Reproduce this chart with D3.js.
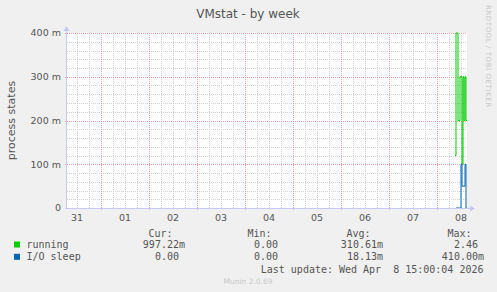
<!DOCTYPE html>
<html>
<head>
<meta charset="utf-8">
<script src="https://cdn.jsdelivr.net/npm/d3@7"></script>
<style>
  body { margin: 0; background: #f0f0f0; }
  svg { display: block; }
  text { white-space: pre; }
</style>
</head>
<body>
<svg></svg>
<script>
const [width, height] = [497, 292];
const plot = {left: 67, right: 467, top: 33, bottom: 208};

// time window and samples (30 min step)
const startTime = new Date(2026, 2, 31, 7, 0);
const endTime = new Date(2026, 3, 8, 15, 0);
const sampleStart = new Date(2026, 3, 8, 9, 0);
const running = [0.12, 0.4, 0.4, 0.2, 0.2, 0.3, 0.3, 0.1, 0.3, 0.2, 0.3, 0.2];
const ioSleep = [null, 0, 0, 0, 0, 0, 0.1, 0.05, 0.05, 0.05, 0.1, 0];

const yTicks = [0, 0.1, 0.2, 0.3, 0.4];
const legendHead = ['Cur:', 'Min:', 'Avg:', 'Max:'];
const series = [
  {name: 'running', color: '#00cc00', data: running, stats: ['997.22m', '0.00 ', '310.61m', '2.46 ']},
  {name: 'I/O sleep', color: '#0066b3', data: ioSleep, stats: ['0.00 ', '0.00 ', '18.13m', '410.00m']}
];

const svg = d3.select('svg').attr('width', width).attr('height', height);
svg.append('rect').attr('width', width).attr('height', height).attr('fill', '#f0f0f0');

const x = d3.scaleTime().domain([startTime, endTime]).range([plot.left, plot.right]);
const y = d3.scaleLinear().domain([0, 0.4]).range([plot.bottom, plot.top]);

svg.append('rect')
  .attr('x', plot.left).attr('y', plot.top)
  .attr('width', plot.right - plot.left).attr('height', plot.bottom - plot.top)
  .attr('fill', '#fff');

const grid = svg.append('g').attr('stroke-width', 1).attr('stroke-dasharray', '1,1').attr('shape-rendering', 'crispEdges');

// minor grid
x.ticks(d3.timeHour.every(6)).forEach(t => {
  if (t.getHours() === 0) return;
  grid.append('line').attr('stroke', '#d0d0d0')
    .attr('x1', Math.round(x(t)) + 0.5).attr('x2', Math.round(x(t)) + 0.5)
    .attr('y1', plot.top).attr('y2', plot.bottom);
});
y.ticks(20).forEach(v => {
  if (Math.round(v * 100) % 10 === 0) return;
  grid.append('line').attr('stroke', '#d0d0d0')
    .attr('x1', plot.left).attr('x2', plot.right)
    .attr('y1', Math.round(y(v)) + 0.5).attr('y2', Math.round(y(v)) + 0.5);
});
// major grid
x.ticks(d3.timeDay.every(1)).forEach(t => {
  grid.append('line').attr('stroke', '#f0a0a0')
    .attr('x1', Math.round(x(t)) + 0.5).attr('x2', Math.round(x(t)) + 0.5)
    .attr('y1', plot.top).attr('y2', plot.bottom + 2);
});
yTicks.slice(1).forEach(v => {
  grid.append('line').attr('stroke', '#f0a0a0')
    .attr('x1', plot.left - 2).attr('x2', plot.right)
    .attr('y1', Math.round(y(v)) + 0.5).attr('y2', Math.round(y(v)) + 0.5);
});

// series
series.forEach(s => {
  const pts = s.data.map((v, i) => [d3.timeMinute.offset(sampleStart, 30 * i), v]);
  pts.push([endTime, s.data[s.data.length - 1]]);
  svg.append('path')
    .datum(pts)
    .attr('fill', 'none')
    .attr('stroke', s.color)
    .attr('stroke-width', 1)
    .attr('d', d3.line()
      .defined(d => d[1] !== null)
      .curve(d3.curveStepAfter)
      .x(d => x(d[0]))
      .y(d => y(d[1])));
});

// axes
const axisColor = '#c8c8f4';
svg.append('line').attr('stroke', axisColor)
  .attr('x1', plot.left - 0.5).attr('x2', plot.left - 0.5)
  .attr('y1', plot.bottom + 1).attr('y2', plot.top - 3);
svg.append('path').attr('fill', axisColor)
  .attr('d', `M${plot.left - 3.5},${plot.top - 2} L${plot.left + 2.5},${plot.top - 2} L${plot.left - 0.5},${plot.top - 7}Z`);
svg.append('line').attr('stroke', axisColor)
  .attr('x1', plot.left - 2).attr('x2', plot.right + 4)
  .attr('y1', plot.bottom + 0.5).attr('y2', plot.bottom + 0.5);
svg.append('path').attr('fill', axisColor)
  .attr('d', `M${plot.right + 3},${plot.bottom - 2.5} L${plot.right + 3},${plot.bottom + 3.5} L${plot.right + 8},${plot.bottom + 0.5}Z`);

const sans = 'DejaVu Sans, sans-serif';
const mono = 'DejaVu Sans Mono, monospace';
const textColor = '#555';

// y labels
svg.append('g').selectAll('text').data(yTicks).join('text')
  .attr('x', plot.left - 6).attr('y', d => y(d))
  .attr('dy', '0.35em')
  .attr('text-anchor', 'end')
  .attr('font-family', sans).attr('font-size', 9.5).attr('fill', textColor)
  .text(d => d === 0 ? '0' : `${Math.round(d * 1000)} m`);

// x labels at noon
const noons = d3.timeDay.range(d3.timeDay.floor(startTime), endTime).map(d => d3.timeHour.offset(d, 12));
svg.append('g').selectAll('text').data(noons).join('text')
  .attr('x', d => x(d)).attr('y', plot.bottom + 13)
  .attr('text-anchor', 'middle')
  .attr('font-family', sans).attr('font-size', 9.5).attr('fill', textColor)
  .text(d3.timeFormat('%d'));

// title and side labels
svg.append('text').attr('x', 248).attr('y', 18).attr('text-anchor', 'middle')
  .attr('font-family', sans).attr('font-size', 12).attr('fill', textColor)
  .text('VMstat - by week');
svg.append('text')
  .attr('transform', `translate(15, ${(plot.top + plot.bottom) / 2}) rotate(-90)`)
  .attr('text-anchor', 'middle')
  .attr('font-family', sans).attr('font-size', 11).attr('fill', textColor)
  .text('process states');
svg.append('text')
  .attr('transform', 'translate(486, 5) rotate(90)')
  .attr('font-family', sans).attr('font-size', 7).attr('fill', '#c8c8c8')
  .attr('textLength', 102).attr('lengthAdjust', 'spacing')
  .text('RRDTOOL / TOBI OETIKER');

// legend
const colRight = [185, 284, 383, 484];
const legend = svg.append('g').attr('font-family', mono).attr('font-size', 10).attr('fill', textColor);
legendHead.forEach((h, i) => {
  legend.append('text').attr('x', colRight[i] - 12.5).attr('y', 236.5).attr('text-anchor', 'end').text(h);
});
series.forEach((s, r) => {
  const yy = 248 + r * 12.3;
  legend.append('rect').attr('x', 14).attr('y', yy - 6.5).attr('width', 6).attr('height', 6).attr('fill', s.color);
  legend.append('text').attr('x', 26.5).attr('y', yy).text(s.name);
  s.stats.forEach((v, i) => {
    legend.append('text').attr('x', colRight[i]).attr('y', yy).attr('text-anchor', 'end').text(v);
  });
});
legend.append('text').attr('x', 483.5).attr('y', 272.5).attr('text-anchor', 'end')
  .text('Last update: Wed Apr  8 15:00:04 2026');

svg.append('text').attr('x', 248).attr('y', 284).attr('text-anchor', 'middle')
  .attr('font-family', sans).attr('font-size', 7.5).attr('fill', '#c8c8c8')
  .text('Munin 2.0.69');
</script>
</body>
</html>
